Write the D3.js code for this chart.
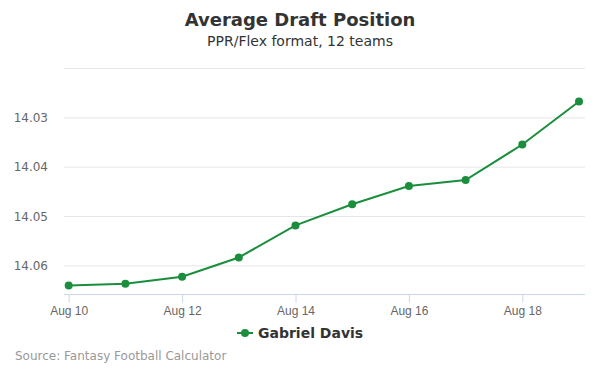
<!DOCTYPE html>
<html lang="en">
<head>
<meta charset="UTF-8">
<title>Average Draft Position</title>
<script src="https://d3js.org/d3.v7.min.js"></script>
<style>
    body{ margin:0; background:#fff; }
    svg{ font-family:"DejaVu Sans", sans-serif; }
    .axis text{ fill:#666; font-size:12px; }
</style>
</head>
<body>
<script>
    var w = 600, h = 375;
    var margin = {top:68.5, right:15, bottom:80.5, left:64};

    // data
    var days = ["Aug 10","Aug 11","Aug 12","Aug 13","Aug 14","Aug 15","Aug 16","Aug 17","Aug 18","Aug 19"];
    var adp = [14.0640,14.0636,14.0622,14.0583,14.0518,14.0475,14.0438,14.0426,14.0354,14.0267];
    var xTicks = ["Aug 10","Aug 12","Aug 14","Aug 16","Aug 18"];
    var gridVals = [14.02,14.03,14.04,14.05,14.06];
    var yLabels = [14.03,14.04,14.05,14.06];
    var color = "#1b8e3d";

    var svg = d3.select("body").append("svg")
        .attr("width", w).attr("height", h);

    var xScale = d3.scalePoint()
        .domain(days)
        .range([68.7, 579]);

    var yScale = d3.scaleLinear()
        .domain([14.02, 14.0658])
        .range([margin.top, h - margin.bottom]);

    // gridlines
    svg.append("g").selectAll("line")
        .data(gridVals).enter().append("line")
        .attr("x1", margin.left).attr("x2", w - margin.right)
        .attr("y1", d => yScale(d)).attr("y2", d => yScale(d))
        .attr("stroke", "#e6e6e6").attr("stroke-width", 1);

    // y labels
    svg.append("g").attr("class","axis").selectAll("text")
        .data(yLabels).enter().append("text")
        .attr("x", 48).attr("y", d => yScale(d) + 4)
        .attr("text-anchor", "end")
        .text(d => d.toFixed(2));

    // x axis
    var xAxis = d3.axisBottom(xScale)
        .tickValues(xTicks)
        .tickSize(8)
        .tickPadding(4);
    var gx = svg.append("g").attr("class","axis")
        .attr("transform", `translate(0,${h - margin.bottom})`)
        .call(xAxis);
    gx.select(".domain").remove();
    gx.selectAll(".tick line").attr("stroke", "#ccd6eb");
    gx.append("line")
        .attr("x1", margin.left).attr("x2", w - margin.right)
        .attr("stroke", "#ccd6eb");

    // line
    var line = d3.line()
        .x((d,i) => xScale(days[i]))
        .y(d => yScale(d));
    svg.append("path")
        .datum(adp)
        .attr("d", line)
        .attr("fill", "none")
        .attr("stroke", color)
        .attr("stroke-width", 2);

    svg.append("g").selectAll("circle")
        .data(adp).enter().append("circle")
        .attr("cx", (d,i) => xScale(days[i]))
        .attr("cy", d => yScale(d))
        .attr("r", 4)
        .attr("fill", color);

    // titles
    svg.append("text")
        .attr("x", w/2).attr("y", 26)
        .attr("text-anchor","middle")
        .attr("font-size", 18).attr("font-weight","bold")
        .attr("fill", "#333")
        .text("Average Draft Position");
    svg.append("text")
        .attr("x", w/2).attr("y", 46)
        .attr("text-anchor","middle")
        .attr("font-size", 14)
        .attr("fill", "#333")
        .text("PPR/Flex format, 12 teams");

    // legend
    var lg = svg.append("g").attr("transform","translate(237,333)");
    lg.append("line").attr("x1",0).attr("x2",16).attr("stroke",color).attr("stroke-width",2);
    lg.append("circle").attr("cx",8).attr("r",4).attr("fill",color);
    lg.append("text").attr("x",21).attr("y",5)
        .attr("font-size",14).attr("font-weight","bold").attr("fill","#333")
        .text("Gabriel Davis");

    // source
    svg.append("text")
        .attr("x", 15).attr("y", 360)
        .attr("font-size", 12).attr("fill", "#999")
        .text("Source: Fantasy Football Calculator");
</script>
</body>
</html>
